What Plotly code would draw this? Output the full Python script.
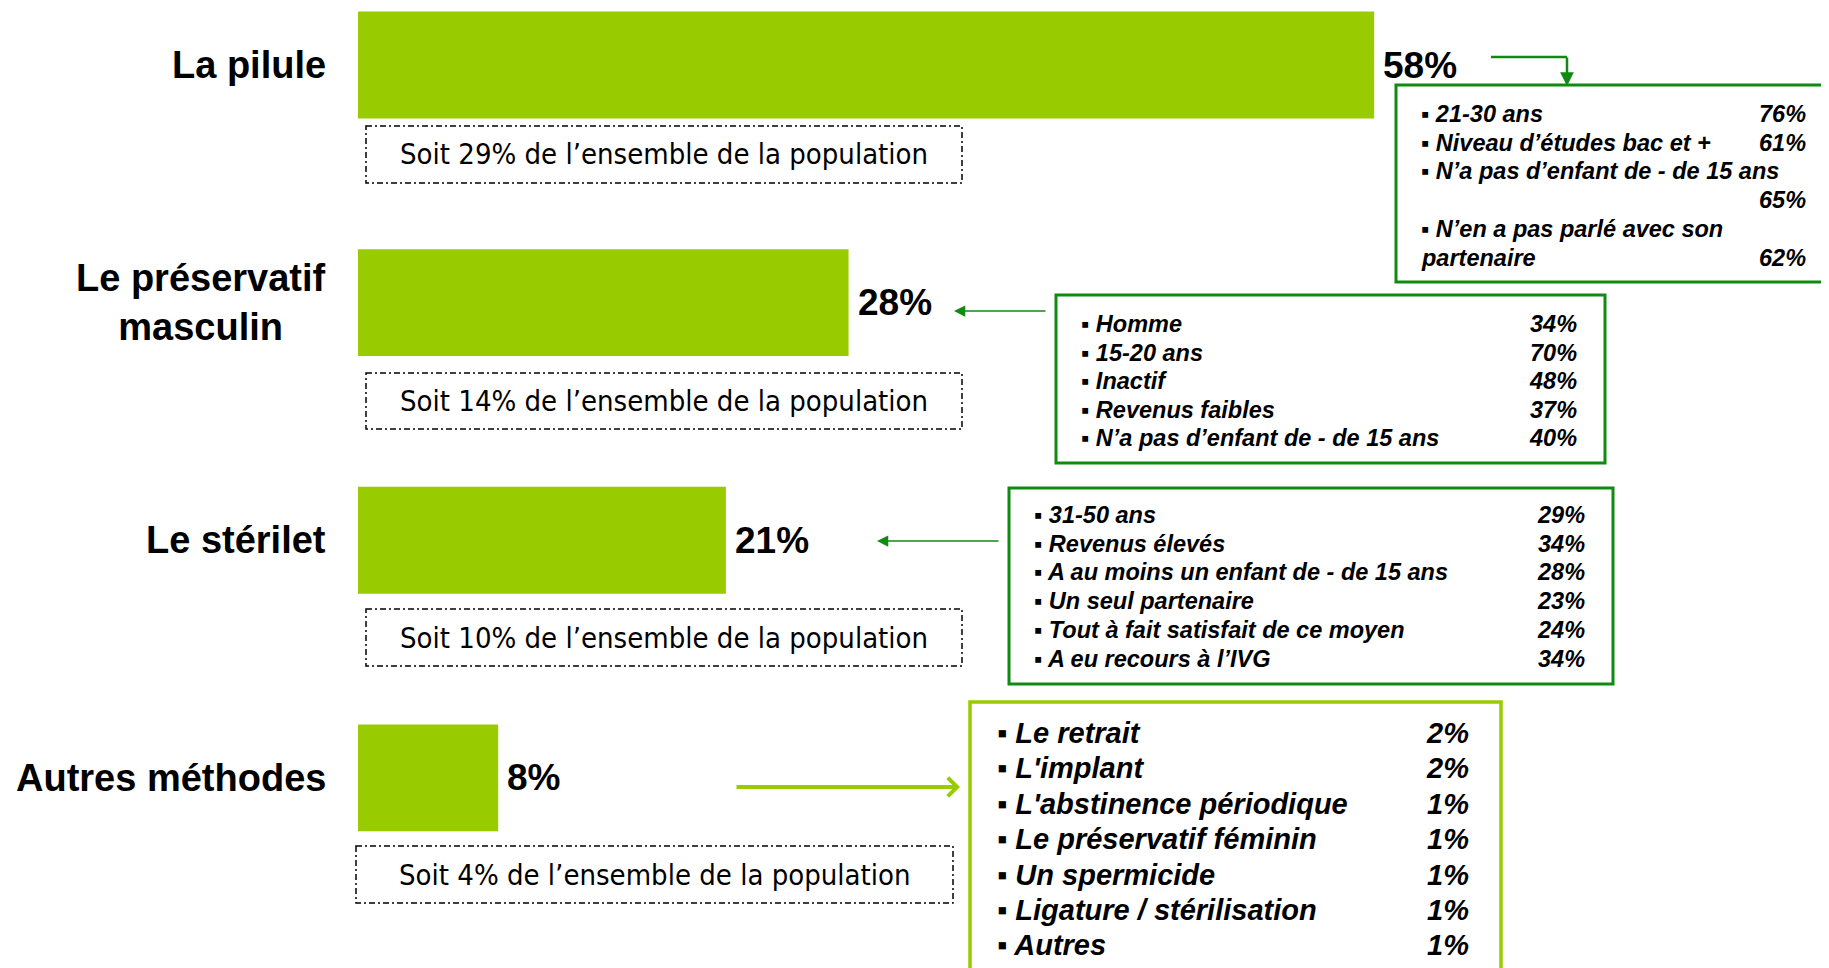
import plotly.graph_objects as go

W, H = 1829, 968
OFF = 8  # the page body margin shifts the figure by 8px

methods = ["La pilule", "Le préservatif<br>masculin", "Le stérilet", "Autres méthodes"]
shares = [58, 28, 21, 8]
population = [29, 14, 10, 4]

# detail boxes: "\n" marks where a label wraps in the original
pilule_items = ["21-30 ans", "Niveau d’études bac et +", "N’a pas d’enfant de - de 15 ans\n",
                "N’en a pas parlé avec son\npartenaire"]
pilule_values = [76, 61, 65, 62]
preserv_items = ["Homme", "15-20 ans", "Inactif", "Revenus faibles", "N’a pas d’enfant de - de 15 ans"]
preserv_values = [34, 70, 48, 37, 40]
sterilet_items = ["31-50 ans", "Revenus élevés", "A au moins un enfant de - de 15 ans", "Un seul partenaire",
                  "Tout à fait satisfait de ce moyen", "A eu recours à l’IVG"]
sterilet_values = [29, 34, 28, 23, 24, 34]
autres_items = ["Le retrait", "L'implant", "L'abstinence périodique", "Le préservatif féminin",
                "Un spermicide", "Ligature / stérilisation", "Autres"]
autres_values = [2, 2, 1, 1, 1, 1, 1]

BAR = "#99CC00"
DARK = "#108a10"
FONT = "Liberation Sans, Arial, sans-serif"
NARROW = "Liberation Sans Narrow, Arial Narrow, DejaVu Sans Condensed, sans-serif"


def px(x):
    return (x - OFF) / W


def py(y):
    return 1 - (y - OFF) / H


fig = go.Figure(go.Bar(
    x=shares, y=methods, orientation="h", width=0.45,
    marker=dict(color=BAR, line=dict(width=0)), hoverinfo="skip",
))

ann = []
shapes = []

for m, v in zip(methods, shares):
    ann.append(dict(x=px(328), xref="paper", y=m, yref="y", text=f"<b>{m}</b>", showarrow=False,
                    xanchor="right", yanchor="middle", align="center",
                    font=dict(family=FONT, size=38, color="black")))
    ann.append(dict(x=v, xref="x", y=m, yref="y", text=f"<b>{v}%</b>", showarrow=False,
                    xanchor="left", yanchor="middle", xshift=7,
                    font=dict(family=FONT, size=37, color="black")))

# "Soit ..." dashed boxes (pixel boxes under each bar)
soit_boxes = [(366, 126, 962, 183), (366, 373, 962, 429), (366, 609, 962, 666), (356, 846, 953, 903)]
for p, (x0, y0, x1, y1) in zip(population, soit_boxes):
    shapes.append(dict(type="rect", xref="paper", yref="paper", x0=px(x0), x1=px(x1), y0=py(y0), y1=py(y1),
                       line=dict(color="black", width=1.5, dash="6px,3px,2px,3px")))
    ann.append(dict(x=px((x0 + x1) / 2), y=py((y0 + y1) / 2), xref="paper", yref="paper",
                    text=f"Soit {p}% de l’ensemble de la population", showarrow=False,
                    xanchor="center", yanchor="middle",
                    font=dict(family=NARROW, size=29, color="black")))


def detail_box(items, values, rect, color, lw, bx, vx, y_first, step, size):
    x0, y0, x1, y1 = rect
    shapes.append(dict(type="rect", xref="paper", yref="paper", x0=px(x0), x1=px(x1), y0=py(y0), y1=py(y1),
                       line=dict(color=color, width=lw), fillcolor="rgba(0,0,0,0)"))
    row = 0
    for item, val in zip(items, values):
        parts = item.split("\n")
        for k, part in enumerate(parts):
            txt = ("▪ " if k == 0 else "") + part
            if part:
                ann.append(dict(x=px(bx), y=py(y_first + row * step), xref="paper", yref="paper",
                                text=f"<b><i>{txt}</i></b>", showarrow=False, xanchor="left", yanchor="middle",
                                font=dict(family=FONT, size=size, color="black")))
            if k == len(parts) - 1:
                ann.append(dict(x=px(vx), y=py(y_first + row * step), xref="paper", yref="paper",
                                text=f"<b><i>{val}%</i></b>", showarrow=False, xanchor="right", yanchor="middle",
                                font=dict(family=FONT, size=size, color="black")))
            row += 1


detail_box(pilule_items, pilule_values, (1396, 85, 1826, 282), DARK, 3, 1419, 1808, 114, 28.7, 23.5)
detail_box(preserv_items, preserv_values, (1056, 295, 1605, 463), DARK, 3, 1079, 1579, 324, 28.6, 23.5)
detail_box(sterilet_items, sterilet_values, (1009, 488, 1613, 684), DARK, 3, 1032, 1587, 515, 28.7, 23.5)
detail_box(autres_items, autres_values, (970, 702, 1501, 990), BAR, 3.5, 995, 1471, 733, 35.4, 29)


def arrow(tail, head, color, width, style, size):
    ann.append(dict(x=px(head[0]), y=py(head[1]), xref="paper", yref="paper", text="",
                    showarrow=True, ax=tail[0] - head[0], ay=tail[1] - head[1],
                    arrowcolor=color, arrowwidth=width, arrowhead=style, arrowsize=size))


# elbow arrow from 58% to its box
shapes.append(dict(type="line", xref="paper", yref="paper", x0=px(1491), x1=px(1567), y0=py(57), y1=py(57),
                   line=dict(color=DARK, width=2.5)))
arrow((1567, 56), (1567, 86), DARK, 2.5, 2, 1.1)
arrow((1047, 311), (954, 311), DARK, 1.5, 2, 1.5)
arrow((1000, 541), (877, 541), DARK, 1.5, 2, 1.5)
arrow((735, 787), (960, 787), BAR, 4, 4, 0.9)

fig.update_layout(
    width=W, height=H,
    margin=dict(l=0, r=0, t=0, b=0),
    paper_bgcolor="white", plot_bgcolor="white",
    showlegend=False,
    xaxis=dict(range=[-(358 - OFF) / 17.52, (W - 358 + OFF) / 17.52], visible=False, fixedrange=True),
    yaxis=dict(type="category", categoryorder="array", categoryarray=methods,
               range=[3 + (H + OFF - 778) / 237.4, -(65 - OFF) / 237.4], visible=False, fixedrange=True),
    annotations=ann,
    shapes=shapes,
)

fig.write_html("out.html")
